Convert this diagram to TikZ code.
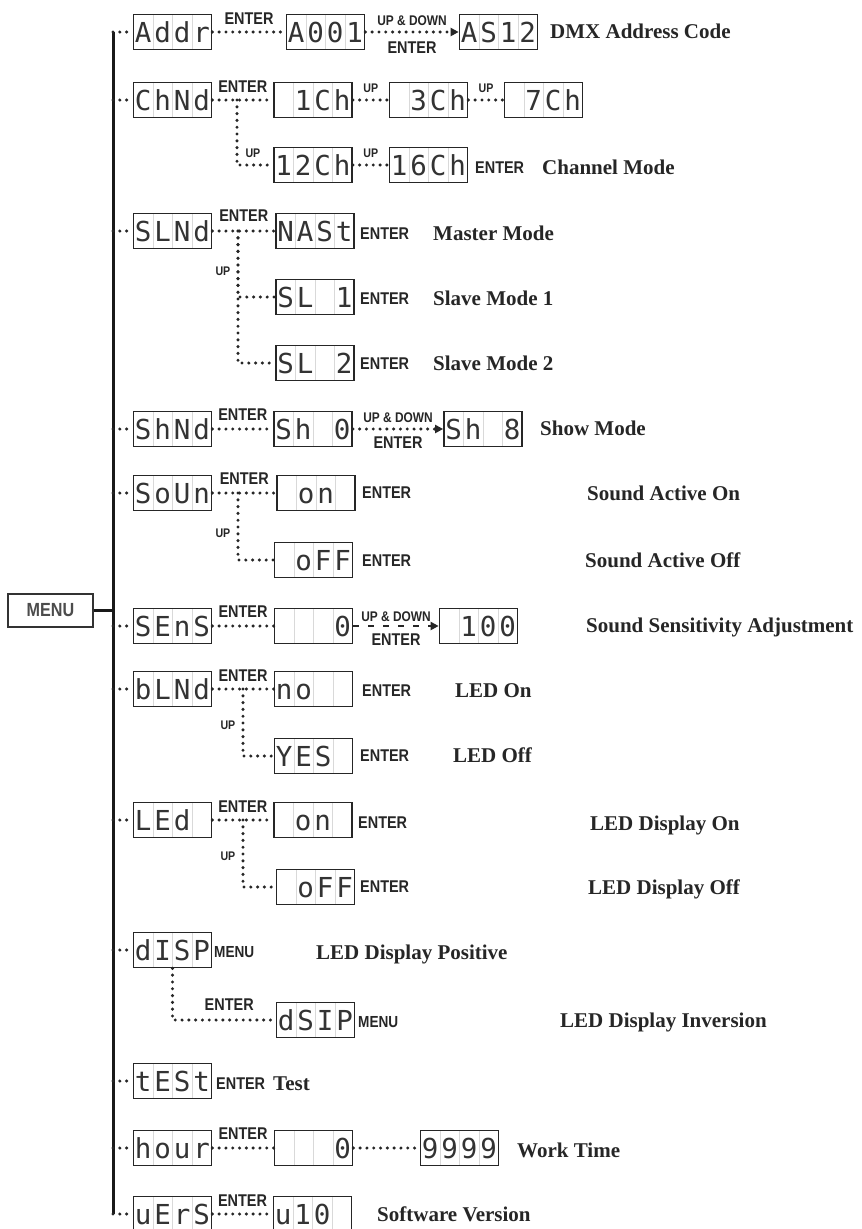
\documentclass[tikz,border=0pt]{standalone}
\usepackage{fontspec}
\setmainfont{Liberation Serif}
\newfontfamily\keyfont[FakeStretch=0.85]{Liberation Sans}
\newfontfamily\segfont{DejaVu Sans Mono}
\usetikzlibrary{arrows.meta,calc}
\newcommand\segcell[1]{\makebox[19.5pt]{#1}}
\newcommand\lcdtext[4]{\segcell{#1}\segcell{#2}\segcell{#3}\segcell{#4}}
\tikzset{
  lcd/.style={draw=black!85, line width=1.7pt, minimum width=78pt, minimum height=35pt,
    inner sep=0pt, text height=20pt, text depth=0pt, text=black!80,
    font=\segfont\fontsize{27.5}{27.5}\selectfont,
    path picture={\foreach \f in {0.25,0.5,0.75}{\draw[black!15,line width=0.8pt]
      ($(path picture bounding box.south west)!\f!(path picture bounding box.south east)$) --
      ($(path picture bounding box.north west)!\f!(path picture bounding box.north east)$);}}},
  menubox/.style={draw=black!80, line width=1.2pt, minimum width=85pt, minimum height=33pt,
    inner sep=0pt, font=\keyfont\bfseries\fontsize{19}{19}\selectfont, text=black!70},
  keylab/.style={font=\keyfont\bfseries\fontsize{17}{17}\selectfont, inner sep=0pt,
    text height=12pt, text depth=0pt, text=black!85},
  keyw/.style={keylab, anchor=west},
  menulab/.style={keyw, font=\keyfont\bfseries\fontsize{16}{16}\selectfont, text height=11.4pt},
  udlab/.style={font=\keyfont\bfseries\fontsize{14}{14}\selectfont, inner sep=0pt,
    text height=10pt, text depth=0pt, text=black!85},
  uplab/.style={font=\keyfont\bfseries\fontsize{12.5}{12.5}\selectfont, inner sep=0pt,
    text height=9pt, text depth=0pt, text=black!85},
  desc/.style={font=\bfseries\fontsize{21}{21}\selectfont, inner sep=0pt, anchor=west,
    text height=14pt, text depth=0pt, text=black!85},
  dots/.style={line width=3.4pt, dash pattern=on 0pt off 6.8pt, line cap=round, black!85},
  dashes/.style={line width=2.6pt, dash pattern=on 6pt off 9pt, black!85},
  trunk/.style={line width=3pt, black!90},
  tip/.style={-{Triangle[length=8pt,width=8pt]}},
}
\begin{document}
\begin{tikzpicture}[x=1pt,y=-1pt]
\useasboundingbox (0,0) rectangle (862,1229);
\clip (0,0) rectangle (862,1229);
\fill[white] (0,0) rectangle (862,1229);
\coordinate (tr) at (113,0);

% ---- menu
\node[menubox] (menu) at (50.5,610.5) {MENU};

% ---- first column
\node[lcd] (addr) at (172.5,32)  {\lcdtext{A}{d}{d}{r}};
\node[lcd] (chnd) at (172.5,100) {\lcdtext{C}{h}{N}{d}};
\node[lcd] (slnd) at (172.5,231) {\lcdtext{S}{L}{N}{d}};
\node[lcd] (shnd) at (172.5,429) {\lcdtext{S}{h}{N}{d}};
\node[lcd] (soun) at (172.5,493) {\lcdtext{S}{o}{U}{n}};
\node[lcd] (sens) at (172.5,626) {\lcdtext{S}{E}{n}{S}};
\node[lcd] (blnd) at (172.5,689) {\lcdtext{b}{L}{N}{d}};
\node[lcd] (led)  at (172.5,820) {\lcdtext{L}{E}{d}{}};
\node[lcd] (disp) at (172.5,950) {\lcdtext{d}{I}{S}{P}};
\node[lcd] (test) at (172.5,1081){\lcdtext{t}{E}{S}{t}};
\node[lcd] (hour) at (172.5,1148){\lcdtext{h}{o}{u}{r}};
\node[lcd] (vers) at (172.5,1214){\lcdtext{u}{E}{r}{S}};

% ---- second column
\node[lcd] (a001) at (325.5,32)  {\lcdtext{A}{0}{0}{1}};
\node[lcd] (ch1)  at (313,100)   {\lcdtext{}{1}{C}{h}};
\node[lcd] (ch12) at (313,165)   {\lcdtext{1}{2}{C}{h}};
\node[lcd] (nast) at (315,231)   {\lcdtext{N}{A}{S}{t}};
\node[lcd] (sl1)  at (315,297)   {\lcdtext{S}{L}{}{1}};
\node[lcd] (sl2)  at (315,363)   {\lcdtext{S}{L}{}{2}};
\node[lcd] (sh0)  at (313,429)   {\lcdtext{S}{h}{}{0}};
\node[lcd] (on1)  at (316,493)   {\lcdtext{}{o}{n}{}};
\node[lcd] (off1) at (313.5,560) {\lcdtext{}{o}{F}{F}};
\node[lcd] (zero1) at (313.5,626){\lcdtext{}{}{}{0}};
\node[lcd] (no)   at (313.5,689) {\lcdtext{n}{o}{}{}};
\node[lcd] (yes)  at (313.5,756) {\lcdtext{Y}{E}{S}{}};
\node[lcd] (on2)  at (313,820)   {\lcdtext{}{o}{n}{}};
\node[lcd] (off2) at (315.5,887) {\lcdtext{}{o}{F}{F}};
\node[lcd] (dsip) at (315.5,1020){\lcdtext{d}{S}{I}{P}};
\node[lcd] (zero2) at (313.5,1148){\lcdtext{}{}{}{0}};
\node[lcd] (u10)  at (312.5,1214){\lcdtext{u}{1}{0}{}};

% ---- third column
\node[lcd] (as12) at (498.5,32)  {\lcdtext{A}{S}{1}{2}};
\node[lcd] (ch3)  at (428.5,100) {\lcdtext{}{3}{C}{h}};
\node[lcd] (ch7)  at (543.5,100) {\lcdtext{}{7}{C}{h}};
\node[lcd] (ch16) at (428.5,165) {\lcdtext{1}{6}{C}{h}};
\node[lcd] (sh8)  at (483,429)   {\lcdtext{S}{h}{}{8}};
\node[lcd] (hund) at (478.5,626) {\lcdtext{}{1}{0}{0}};
\node[lcd] (nine) at (459.5,1148){\lcdtext{9}{9}{9}{9}};

% ---- trunk
\draw[trunk] (tr |- addr.west) -- (tr |- vers.west);
\draw[trunk] (menu.east) -- (menu.east -| tr);
\foreach \n in {addr,chnd,slnd,shnd,soun,sens,blnd,led,disp,test,hour,vers}
  \draw[dots] (tr |- \n.west) -- (\n.west);

% ---- row Addr
\draw[dots] (addr.east) -- node[keylab, above=6pt] (e1) {ENTER} (a001.west);
\draw[dots, tip] (a001.east) -- node[udlab, above=5pt] (ud1) {UP \& DOWN}
   node[keylab, below=8pt] (e1b) {ENTER} (as12.west);
\node[desc] (dmx) at (550,31) {DMX Address Code};

% ---- row ChNd
\draw[dots] (chnd.east) -- node[keylab, above=6pt] (e2) {ENTER} (ch1.west);
\draw[dots] (ch1.east) -- node[uplab, above=6pt] (u2a) {UP} (ch3.west);
\draw[dots] (ch3.east) -- node[uplab, above=6pt] (u2b) {UP} (ch7.west);
\coordinate (b2) at (237,100);
\draw[dots] (b2) |- node[uplab, pos=0.72, above=6pt] (u2c) {UP} (ch12.west);
\draw[dots] (ch12.east) -- node[uplab, above=6pt] (u2d) {UP} (ch16.west);
\node[keyw] (e2b) at (475,167) {ENTER};
\node[desc] (chm) at (542,167) {Channel Mode};

% ---- row SLNd
\draw[dots] (slnd.east) -- node[keylab, above=8pt] (e3) {ENTER} (nast.west);
\coordinate (b3) at (238,231);
\draw[dots] (b3) |- (sl1.west);
\draw[dots] (b3) |- node[uplab, pos=0.15, left=6pt] (u3) {UP} (sl2.west);
\node[keyw] (e3a) at (360,233) {ENTER};
\node[desc] (mm) at (433,233) {Master Mode};
\node[keyw] (e3b) at (360,298) {ENTER};
\node[desc] (sm1) at (433,298) {Slave Mode 1};
\node[keyw] (e3c) at (360,363) {ENTER};
\node[desc] (sm2) at (433,363) {Slave Mode 2};

% ---- row ShNd
\draw[dots] (shnd.east) -- node[keylab, above=7pt] (e4) {ENTER} (sh0.west);
\draw[dots, tip] (sh0.east) -- node[udlab, above=5pt] (ud4) {UP \& DOWN}
   node[keylab, below=6pt] (e4b) {ENTER} (sh8.west);
\node[desc] (shm) at (540,428) {Show Mode};

% ---- row SoUn
\draw[dots] (soun.east) -- node[keylab, above=7pt] (e5) {ENTER} (on1.west);
\coordinate (b5) at (238,493);
\draw[dots] (b5) |- node[uplab, pos=0.3, left=6pt] (u5) {UP} (off1.west);
\node[keyw] (e5a) at (362,492) {ENTER};
\node[desc] (sao) at (587,493) {Sound Active On};
\node[keyw] (e5b) at (362,560) {ENTER};
\node[desc] (saf) at (585,560) {Sound Active Off};

% ---- row SEnS
\draw[dots] (sens.east) -- node[keylab, above=7pt] (e6) {ENTER} (zero1.west);
\draw[dashes, tip] (zero1.east) -- node[udlab, above=3pt] (ud6) {UP \& DOWN}
   node[keylab, below=6pt] (e6b) {ENTER} (hund.west);
\node[desc] (ssa) at (586,625) {Sound Sensitivity Adjustment};

% ---- row bLNd
\draw[dots] (blnd.east) -- node[keylab, above=6pt] (e7) {ENTER} (no.west);
\coordinate (b7) at (243,689);
\draw[dots] (b7) |- node[uplab, pos=0.27, left=6pt] (u7) {UP} (yes.west);
\node[keyw] (e7a) at (362,690) {ENTER};
\node[desc] (lon) at (455,690) {LED On};
\node[keyw] (e7b) at (360,755) {ENTER};
\node[desc] (loff) at (453,755) {LED Off};

% ---- row LEd
\draw[dots] (led.east) -- node[keylab, above=6pt] (e8) {ENTER} (on2.west);
\coordinate (b8) at (243,820);
\draw[dots] (b8) |- node[uplab, pos=0.27, left=6pt] (u8) {UP} (off2.west);
\node[keyw] (e8a) at (358,822) {ENTER};
\node[desc] (ldon) at (590,823) {LED Display On};
\node[keyw] (e8b) at (360,886) {ENTER};
\node[desc] (ldoff) at (588,887) {LED Display Off};

% ---- row dISP
\node[menulab] (m9a) at (214,952) {MENU};
\node[desc] (ldp) at (316,952) {LED Display Positive};
\draw[dots] (disp.south) |- node[keylab, pos=0.775, above=8pt] (e9) {ENTER} (dsip.west);
\node[menulab] (m9b) at (358,1022) {MENU};
\node[desc] (ldi) at (560,1020) {LED Display Inversion};

% ---- row tESt
\node[keyw] (e10) at (216,1083) {ENTER};
\node[desc] (tst) at (273,1083) {Test};

% ---- row hour
\draw[dots] (hour.east) -- node[keylab, above=7pt] (e11) {ENTER} (zero2.west);
\draw[dots] (zero2.east) -- (nine.west);
\node[desc] (wt) at (517,1150) {Work Time};

% ---- row uErS
\draw[dots] (vers.east) -- node[keylab, above=6pt] (e12) {ENTER} (u10.west);
\node[desc] (sv) at (377,1214) {Software Version};
\end{tikzpicture}
\end{document}
